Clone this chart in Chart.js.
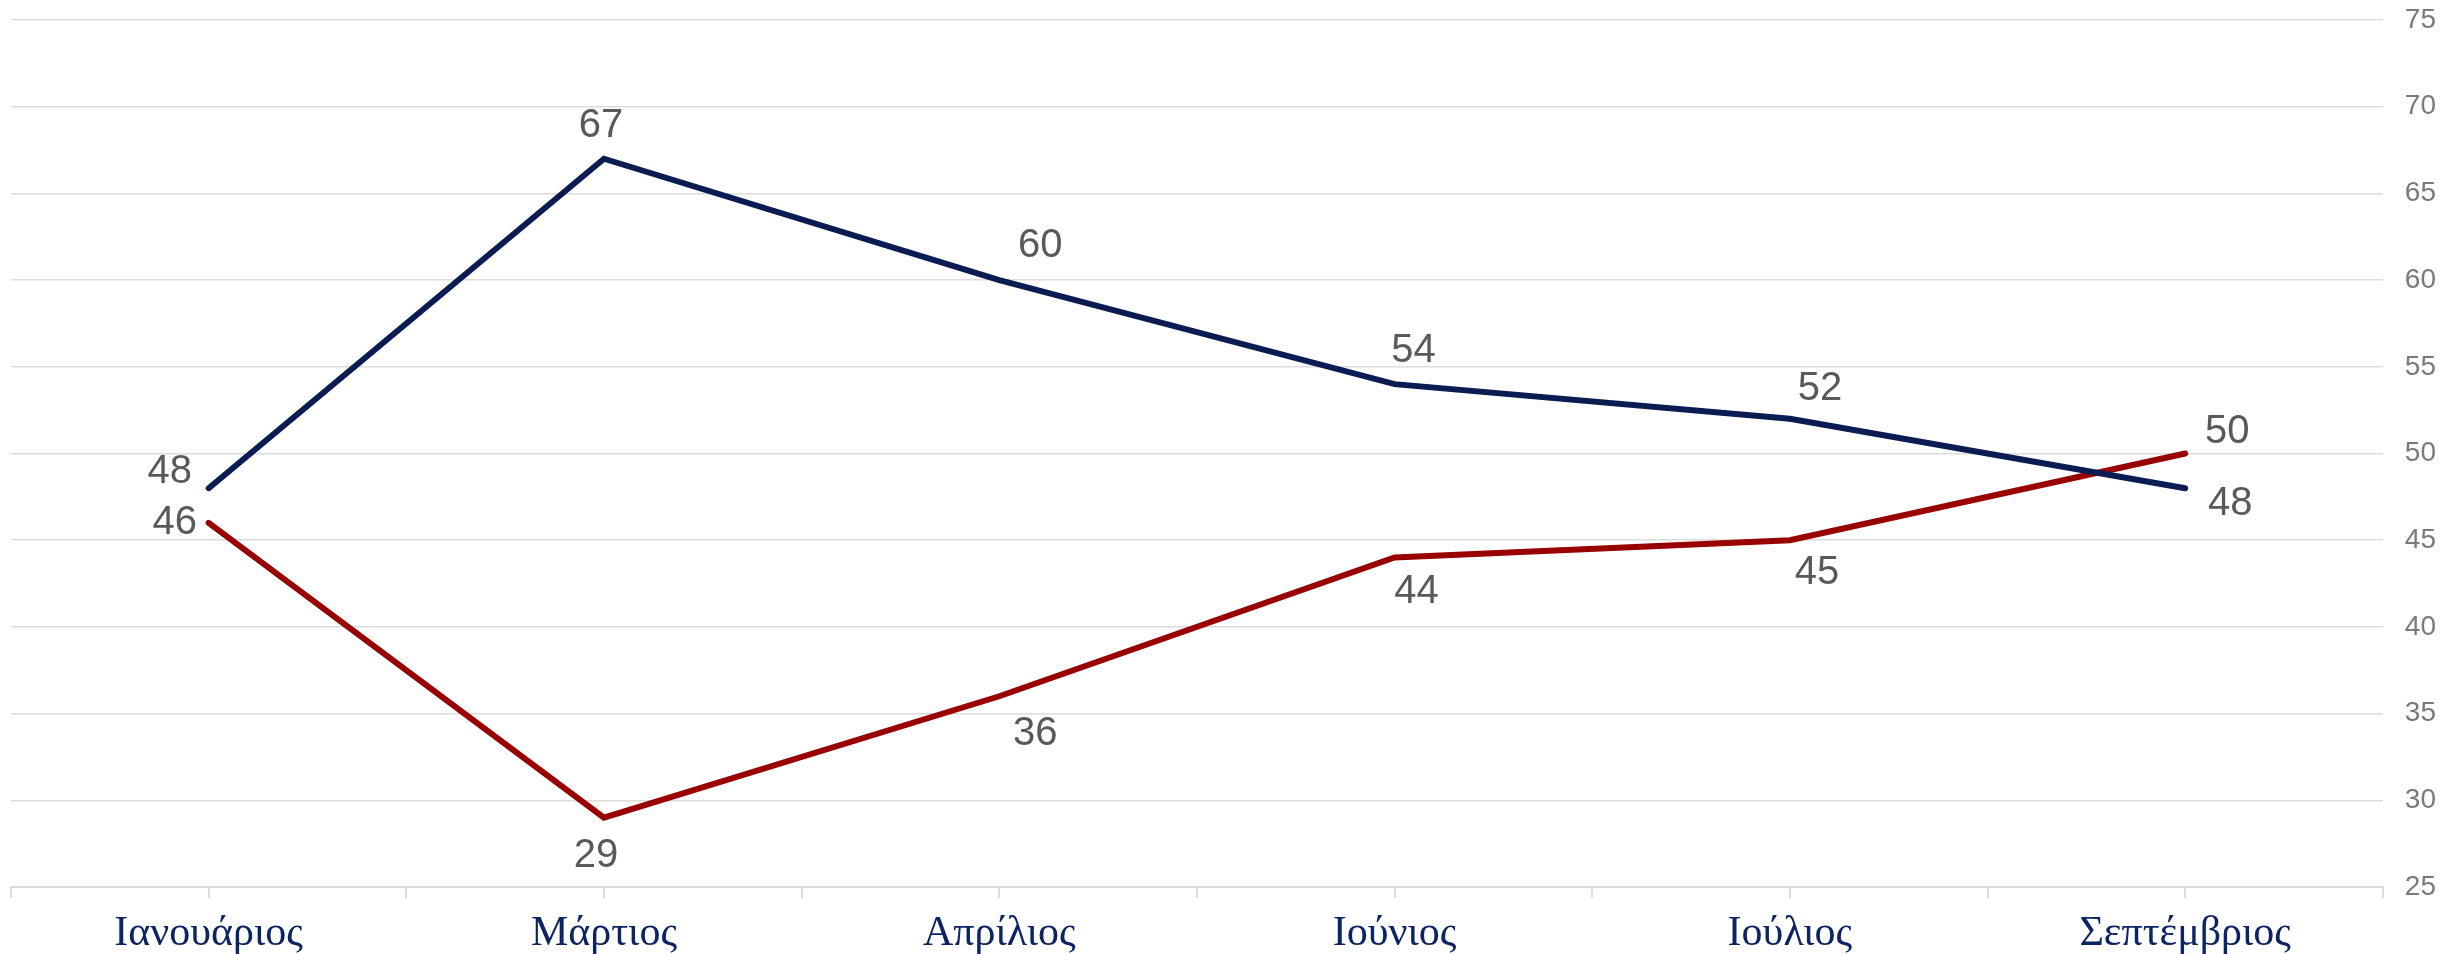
<!DOCTYPE html>
<html>
<head>
<meta charset="utf-8">
<script src="https://cdn.jsdelivr.net/npm/chart.js@4"></script>
<style>
  html, body { margin: 0; padding: 0; background: #fff; }
  #wrap { width: 2458px; height: 954px; }
</style>
</head>
<body>
<div id="wrap"><canvas id="chart"></canvas></div>
<script>
// Months shown on the x axis
const months = ['Ιανουάριος', 'Μάρτιος', 'Απρίλιος', 'Ιούνιος', 'Ιούλιος', 'Σεπτέμβριος'];

// Series values
const blueValues = [48, 67, 60, 54, 52, 48];
const redValues = [46, 29, 36, 44, 45, 50];

// y axis
const yMin = 25;
const yMax = 75;
const yStep = 5;

// where each value label sits relative to its point (px)
const blueLabelOffsets = [[-39, -16], [-3, -33], [41, -34], [19, -33], [30, -30], [45, 16]];
const redLabelOffsets = [[-34, 0], [-8, 38], [36, 38], [22, 34], [27, 33], [42, -22]];

const gridColor = '#dcdcdc';

// value labels next to each point
const valueLabels = {
  id: 'valueLabels',
  afterDatasetsDraw(chart) {
    const ctx = chart.ctx;
    ctx.save();
    ctx.font = '40px "Liberation Sans", Arial, sans-serif';
    ctx.fillStyle = '#595959';
    ctx.textAlign = 'center';
    ctx.textBaseline = 'middle';
    chart.data.datasets.forEach((ds, di) => {
      const meta = chart.getDatasetMeta(di);
      meta.data.forEach((pt, i) => {
        const off = ds.labelOffsets[i];
        ctx.fillText(ds.data[i], pt.x + off[0], pt.y + off[1]);
      });
    });
    ctx.restore();
  }
};

// small tick marks under each category centre
const centerTicks = {
  id: 'centerTicks',
  afterDraw(chart) {
    const x = chart.scales.x;
    const ctx = chart.ctx;
    ctx.save();
    ctx.strokeStyle = gridColor;
    ctx.lineWidth = 2;
    months.forEach((m, i) => {
      const px = Math.round(x.getPixelForValue(i));
      ctx.beginPath();
      ctx.moveTo(px, x.top);
      ctx.lineTo(px, x.top + 11);
      ctx.stroke();
    });
    ctx.restore();
  }
};

new Chart(document.getElementById('chart'), {
  type: 'line',
  data: {
    labels: months,
    datasets: [
      {
        label: 'A',
        data: blueValues,
        borderColor: '#0a1c52',
        borderWidth: 6,
        pointRadius: 0,
        tension: 0,
        borderCapStyle: 'round',
        labelOffsets: blueLabelOffsets
      },
      {
        label: 'B',
        data: redValues,
        borderColor: '#990000',
        borderWidth: 6,
        pointRadius: 0,
        tension: 0,
        borderCapStyle: 'round',
        labelOffsets: redLabelOffsets
      }
    ]
  },
  options: {
    responsive: true,
    maintainAspectRatio: false,
    animation: false,
    layout: { padding: { left: 11, right: 0, top: 0, bottom: 0 } },
    plugins: {
      legend: { display: false },
      tooltip: { enabled: false }
    },
    scales: {
      x: {
        offset: true,
        grid: {
          display: true,
          offset: true,
          drawOnChartArea: false,
          tickLength: 11,
          color: gridColor,
          lineWidth: 2
        },
        border: { display: true, color: gridColor, width: 2 },
        ticks: {
          color: '#0c2463',
          font: { family: '"Liberation Serif", "DejaVu Serif", serif', size: 42, lineHeight: 0.95 },
          padding: 16,
          maxRotation: 0
        },
        afterFit(scale) {
          scale.height = 67;
        }
      },
      y: {
        position: 'right',
        min: yMin,
        max: yMax,
        grid: {
          color: gridColor,
          lineWidth: 1.5,
          drawTicks: false
        },
        border: { display: false },
        ticks: {
          stepSize: yStep,
          color: '#7a7a7a',
          font: { family: '"Liberation Sans", Arial, sans-serif', size: 28 },
          padding: 22
        },
        afterFit(scale) {
          // the tick padding is meant to be horizontal only
          scale.paddingTop = 20;
          scale.paddingBottom = 0;
        }
      }
    }
  },
  plugins: [valueLabels, centerTicks]
});
</script>
</body>
</html>
